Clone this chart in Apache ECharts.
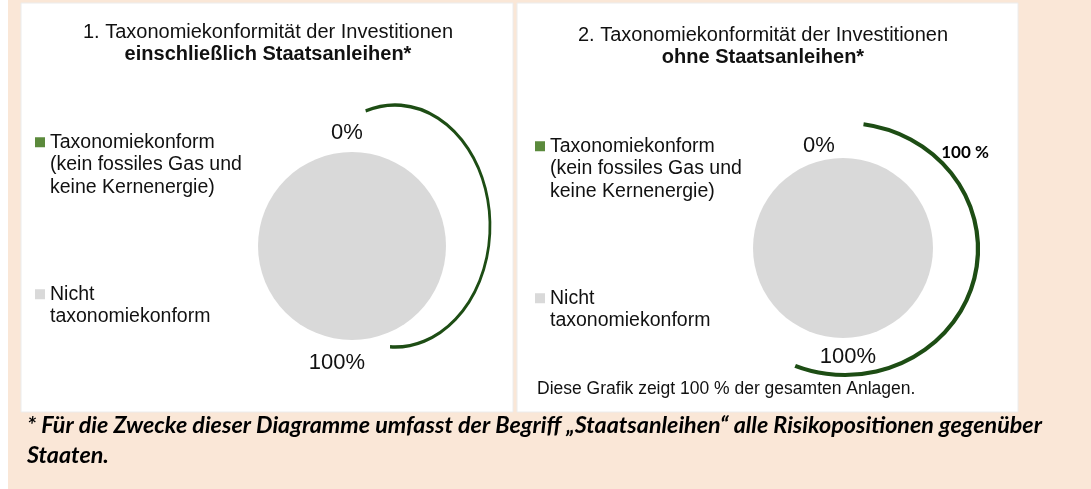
<!DOCTYPE html>
<html>
<head>
<meta charset="utf-8">
<script src="https://cdn.jsdelivr.net/npm/echarts@6/dist/echarts.min.js"></script>
<style>
  html, body { margin: 0; padding: 0; background: #fff; }
  #container { width: 1091px; height: 489px; }
</style>
</head>
<body>
<div id="container"></div>
<script>
;(function() {

  // data
  var categories = ['Taxonomiekonform\n(kein fossiles Gas und\nkeine Kernenergie)', 'Nicht\ntaxonomiekonform']
  var withBonds = [0, 100]     // 1. einschließlich Staatsanleihen
  var withoutBonds = [0, 100]  // 2. ohne Staatsanleihen
  var colors = ['#5b8a3c', '#d9d9d9']

  var titles = [
    '1. Taxonomiekonformität der Investitionen\n{b|einschließlich Staatsanleihen*}',
    '2. Taxonomiekonformität der Investitionen\n{b|ohne Staatsanleihen*}'
  ]
  var arcLabel = '100 %'
  var note = 'Diese Grafik zeigt 100 % der gesamten Anlagen.'
  var footnote = '* Für die Zwecke dieser Diagramme umfasst der Begriff „Staatsanleihen“ alle Risikopositionen gegenüber\nStaaten.'

  var font = 'Liberation Sans, Arial, sans-serif'
  var peach = '#fae7d7'
  var arcColor = '#1d4d14'
  var deg = Math.PI / 180

  var dom = document.getElementById('container')
  var myChart = echarts.init(dom)

  // label nudges per pie: [dx, dy] for each slice
  var labelNudge = [
    [[0, 1], [-10, 3]],
    [[-19, 8], [10, -1]]
  ]

  function pieSeries(values, center, radius, idx) {
    return {
      type: 'pie',
      center: center,
      radius: radius,
      startAngle: 90,
      silent: true,
      avoidLabelOverlap: false,
      label: {
        show: true,
        position: 'outside',
        formatter: '{d}%',
        fontFamily: font,
        fontSize: 22,
        color: '#111'
      },
      labelLine: { show: false, length: 20, length2: 0 },
      labelLayout: function(p) {
        var n = labelNudge[idx][p.dataIndex]
        return { align: 'center', dx: n[0], dy: n[1] }
      },
      data: values.map(function(v, i) {
        return { name: categories[i], value: v, itemStyle: { color: colors[i] } }
      })
    }
  }

  // legend text is centred on its marker, so pad with empty lines above
  // to bring the first line level with the square
  function legendText(name) {
    var n = name.split('\n').length
    return new Array(n).join('\n') + name
  }

  function legendFor(left, top, gap) {
    return {
      orient: 'vertical',
      left: left,
      top: top,
      padding: 0,
      itemGap: gap,
      itemWidth: 10,
      itemHeight: 10,
      icon: 'rect',
      selectedMode: false,
      formatter: legendText,
      textStyle: { fontFamily: font, fontSize: 19.5, lineHeight: 22.5, color: '#111' },
      data: categories
    }
  }

  function titleFor(text, left, top) {
    return {
      text: text,
      left: left,
      top: top,
      textAlign: 'center',
      padding: 0,
      textStyle: {
        fontFamily: font,
        fontSize: 20,
        fontWeight: 'normal',
        lineHeight: 22,
        color: '#111',
        rich: { b: { fontFamily: font, fontSize: 20, fontWeight: 'bold', lineHeight: 22, color: '#111' } }
      }
    }
  }

  // elliptical arc drawn as a scaled circle arc
  function arc(cx, cy, rx, ry, a0, a1, width) {
    return {
      type: 'arc', z: 10, x: cx, y: cy, scaleX: rx / ry,
      shape: { cx: 0, cy: 0, r: ry, startAngle: a0 * deg, endAngle: a1 * deg, clockwise: true },
      style: { fill: 'none', stroke: arcColor, lineWidth: width, strokeNoScale: true }
    }
  }

  var option = {
    backgroundColor: '#fff',
    animation: false,
    title: [
      titleFor(titles[0], 268, 21),
      titleFor(titles[1], 763, 24),
      {
        text: footnote,
        left: 27,
        top: 410,
        padding: 0,
        textStyle: {
          fontFamily: 'Lato, sans-serif',
          fontSize: 23.3,
          fontWeight: 'bold',
          fontStyle: 'italic',
          lineHeight: 30,
          color: '#000'
        }
      }
    ],
    legend: [legendFor(35, 86, 62), legendFor(535, 90, 62)],
    graphic: [
      // peach frame and white panels
      { type: 'rect', z: -10, shape: { x: 8, y: 0, width: 1083, height: 489 }, style: { fill: peach } },
      { type: 'rect', z: -9, shape: { x: 21, y: 3, width: 492, height: 409 }, style: { fill: '#fff', stroke: '#ececec', lineWidth: 1 } },
      { type: 'rect', z: -9, shape: { x: 517, y: 3, width: 501, height: 409 }, style: { fill: '#fff', stroke: '#ececec', lineWidth: 1 } },
      // hand-drawn arcs round the pies
      arc(395, 226, 95, 121, -108, 93, 3.5),
      arc(845, 249, 133, 126, -82, 112, 4),
      { type: 'text', z: 11, x: 965, y: 153, style: { text: arcLabel, fontFamily: 'Lato, sans-serif', fontSize: 17, fontWeight: 'bold', fill: '#000', align: 'center', verticalAlign: 'middle' } },
      { type: 'text', z: 11, x: 537, y: 389, style: { text: note, fontFamily: font, fontSize: 17.5, fill: '#111', align: 'left', verticalAlign: 'middle' } }
    ],
    series: [
      pieSeries(withBonds, [352, 246], 94, 0),
      pieSeries(withoutBonds, [843, 248], 90, 1)
    ]
  }

  myChart.setOption(option, true)
})()
</script>
</body>
</html>
